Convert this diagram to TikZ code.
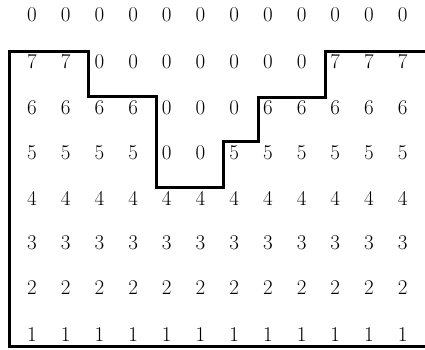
\documentclass[tikz,border=0pt]{standalone}
\begin{document}
\begin{tikzpicture}[x=1pt,y=-1pt,
  digit/.style={inner sep=0pt,font=\fontsize{21}{24}\selectfont,text=black},
  outline/.style={line width=3pt,line join=miter,black}]
\useasboundingbox (0,0) rectangle (425,349);
\foreach \vals [count=\r] in {
  {0,0,0,0,0,0,0,0,0,0,0,0},
  {7,7,0,0,0,0,0,0,0,7,7,7},
  {6,6,6,6,0,0,0,6,6,6,6,6},
  {5,5,5,5,0,0,5,5,5,5,5,5},
  {4,4,4,4,4,4,4,4,4,4,4,4},
  {3,3,3,3,3,3,3,3,3,3,3,3},
  {2,2,2,2,2,2,2,2,2,2,2,2},
  {1,1,1,1,1,1,1,1,1,1,1,1}}{
  \pgfmathparse{{15,62,108,153,198,243,288,335}[\r-1]}
  \let\yy\pgfmathresult
  \foreach \v [count=\c] in \vals {
    \node[digit] (n-\r-\c) at ({32+33.7*(\c-1)},\yy) {\v};
  }
}
\coordinate (p0) at (425,51);
\coordinate (p1) at (325,51);
\coordinate (p2) at (325,97);
\coordinate (p3) at (258,97);
\coordinate (p4) at (258,141);
\coordinate (p5) at (223,141);
\coordinate (p6) at (223,187);
\coordinate (p7) at (156,187);
\coordinate (p8) at (156,96);
\coordinate (p9) at (88,96);
\coordinate (p10) at (88,51);
\coordinate (p11) at (9,51);
\coordinate (p12) at (9,346);
\coordinate (p13) at (425,346);
\draw[outline] (p0) -- (p1) -- (p2) -- (p3) -- (p4) -- (p5) -- (p6) -- (p7) -- (p8) -- (p9) -- (p10) -- (p11) -- (p12) -- (p13);
\end{tikzpicture}
\end{document}
